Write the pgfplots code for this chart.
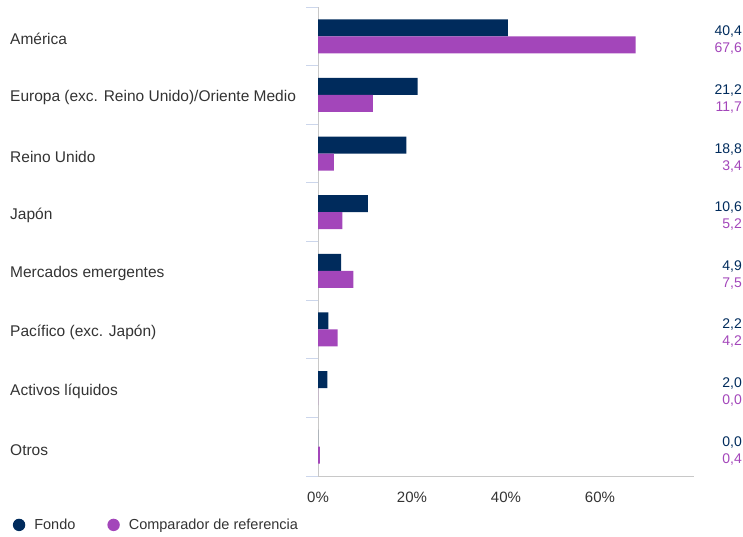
\documentclass[border=0pt]{standalone}
\usepackage{pgfplots}
\pgfplotsset{compat=1.18}
\usepackage{fontspec}
\setmainfont{Liberation Sans}
\definecolor{navy}{HTML}{002B5C}
\definecolor{purp}{HTML}{A346BA}
\definecolor{txt}{HTML}{333333}
\definecolor{axisc}{HTML}{C8C8C8}
\definecolor{tickc}{HTML}{CCD6EB}
\begin{document}
\begin{tikzpicture}[x=1pt,y=1pt]
\useasboundingbox (0,0) rectangle (743,536);
\begin{axis}[
  at={(318pt,60pt)}, anchor=south west,
  scale only axis, width=376pt, height=469pt,
  xmin=0, xmax=80, ymin=-0.5, ymax=7.5,
  axis x line*=bottom, axis y line*=left,
  x axis line style={draw=axisc,-},
  y axis line style={draw=axisc,-},
  xbar, bar width=17pt,
  xtick={0,20,40,60},
  xticklabels={0\%,20\%,40\%,60\%},
  xtick style={draw=none},
  xticklabel style={font=\fontsize{15}{18}\selectfont, text=txt, yshift=-12pt},
  ytick={0,...,7},
  yticklabels={Otros,Activos líquidos,Pacífico (exc. Japón),Mercados emergentes,Japón,Reino Unido,Europa (exc. Reino Unido)/Oriente Medio,América},
  major tick length=0pt,
  minor ytick={-0.5,0.5,...,7.5},
  minor tick length=12pt,
  tick align=outside,
  minor y tick style={draw=tickc, line width=0.8pt},
  yticklabel style={anchor=west, xshift=-308pt, yshift=-3pt, inner sep=0pt, font=\fontsize{15.5}{18}\selectfont, text=txt},
  legend columns=2,
  legend style={at={(rel axis cs:-0.82,-0.1043)}, anchor=west, draw=none, fill=none,
    font=\fontsize{14.5}{17}\selectfont, text=txt,
    /tikz/every odd column/.append style={column sep=7pt},
    /tikz/every even column/.append style={column sep=30pt}},
  legend image code/.code={\fill[#1] (4pt,0pt) circle (6.2pt);},
]
\addplot[fill=navy, draw=none, bar shift=8.5pt] coordinates {
  (40.4,7) (21.2,6) (18.8,5) (10.6,4) (4.9,3) (2.2,2) (2.0,1) (0.0,0)};
\addlegendentry{Fondo}
\addplot[fill=purp, draw=none, bar shift=-8.5pt] coordinates {
  (67.6,7) (11.7,6) (3.4,5) (5.2,4) (7.5,3) (4.2,2) (0.0,1) (0.4,0)};
\addlegendentry{Comparador de referencia}
\end{axis}
\begin{axis}[
  at={(318pt,60pt)}, anchor=south west,
  scale only axis, width=376pt, height=469pt,
  xmin=0, xmax=80, ymin=-0.5, ymax=7.5,
  hide x axis,
  axis y line*=right,
  y axis line style={draw=none},
  major tick length=0pt,
  ytick={0,...,7},
  yticklabels={
    {\textcolor{navy}{0,0}\\\textcolor{purp}{0,4}},
    {\textcolor{navy}{2,0}\\\textcolor{purp}{0,0}},
    {\textcolor{navy}{2,2}\\\textcolor{purp}{4,2}},
    {\textcolor{navy}{4,9}\\\textcolor{purp}{7,5}},
    {\textcolor{navy}{10,6}\\\textcolor{purp}{5,2}},
    {\textcolor{navy}{18,8}\\\textcolor{purp}{3,4}},
    {\textcolor{navy}{21,2}\\\textcolor{purp}{11,7}},
    {\textcolor{navy}{40,4}\\\textcolor{purp}{67,6}}},
  yticklabel style={align=right, anchor=east, xshift=48pt, yshift=-4pt, inner sep=0pt, font=\fontsize{14}{17}\selectfont},
]
\end{axis}
\end{tikzpicture}
\end{document}
